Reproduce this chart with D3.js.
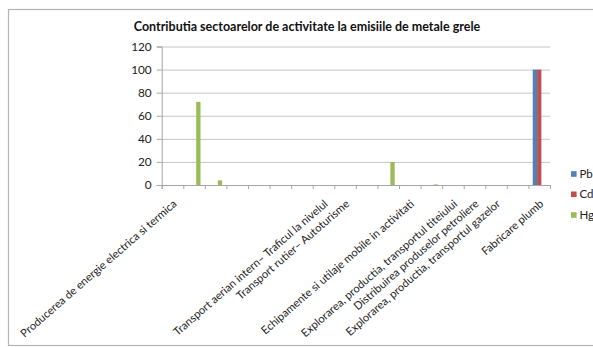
<!DOCTYPE html>
<html>
<head>
<meta charset="utf-8">
<script src="https://cdn.jsdelivr.net/npm/d3@7"></script>
<style>
  html, body { margin: 0; padding: 0; background: #fff; overflow: hidden; }
  svg { display: block; }
  text { font-family: "Lato", "Open Sans", sans-serif; }
</style>
</head>
<body>
<svg id="chart" width="593" height="347"></svg>
<script>
// ---- data ----
const title = "Contributia sectoarelor de activitate la emisiile de metale grele";
const categories = [
  "Producerea de energie electrica si termica", "", "", "", "", "", "",
  "Transport aerian intern– Traficul la nivelul",
  "Transport rutier– Autoturisme", "", "",
  "Echipamente si utilaje mobile in activitati", "",
  "Explorarea, productia, transportul titeiului",
  "Distribuirea produselor petroliere",
  "Explorarea, productia, transportul gazelor", "",
  "Fabricare plumb"
];
const seriesNames = ["Pb", "Cd", "Hg"];
const pbValues = [0,0,0,0,0,0,0,0,0,0,0,0,0,0,0,0,0,100];
const cdValues = [0,0,0,0,0,0,0,0,0,0,0,0,0,0,0,0,0,100];
const hgValues = [0,72,4,0,0,0,0,0,0,0,20,0,0.5,0,0,0,0,0];
const yTicks = [0, 20, 40, 60, 80, 100, 120];
const colors = ["#4F81BD", "#C0504D", "#9BBB59"];

const seriesValues = [pbValues, cdValues, hgValues];

const svg = d3.select("#chart");

// chart border
svg.append("rect")
  .attr("x", 8.5).attr("y", 9.5)
  .attr("width", 600).attr("height", 336)
  .attr("fill", "#fff").attr("stroke", "#b4b4b4").attr("stroke-width", 1.2);

const plotL = 161.7, plotR = 550, plotT = 46.5, plotB = 185;

const x = d3.scaleBand().domain(d3.range(categories.length)).range([plotL, plotR]).paddingInner(0).paddingOuter(0);
const xEdge = d3.scaleLinear().domain([0, categories.length]).range([plotL, plotR]);
const x1 = d3.scaleBand().domain(seriesNames).range([0, x.bandwidth()]).paddingInner(0).paddingOuter(1);
const y = d3.scaleLinear().domain([0, 120]).range([plotB, plotT]);

// gridlines
svg.append("g")
  .attr("transform", `translate(${plotL},0)`)
  .call(d3.axisLeft(y).tickValues(yTicks.filter(d => d > 0)).tickSize(-(plotR - plotL)).tickFormat(""))
  .call(g => g.select(".domain").remove())
  .call(g => g.selectAll("line").attr("stroke", "#c6c6c6").attr("stroke-width", 1));

// y axis
svg.append("g")
  .attr("transform", `translate(${plotL},0)`)
  .call(d3.axisLeft(y).tickValues(yTicks).tickSize(5).tickPadding(5))
  .call(g => g.select(".domain").attr("stroke", "#a6a6a6"))
  .call(g => g.selectAll("line").attr("stroke", "#a6a6a6"))
  .call(g => g.selectAll("text").attr("font-size", 11.8).attr("fill", "#222").style("font-family", "Lato, sans-serif"));

// bars
const groups = svg.append("g");
seriesNames.forEach((s, si) => {
  groups.selectAll(null)
    .data(seriesValues[si].map((v, i) => ({ i, v })))
    .join("rect")
    .attr("x", d => x(d.i) + x1(s))
    .attr("y", d => y(d.v))
    .attr("width", x1.bandwidth())
    .attr("height", d => y(0) - y(d.v))
    .attr("fill", colors[si]);
});

// x axis
svg.append("g")
  .attr("transform", `translate(0,${plotB})`)
  .call(d3.axisBottom(xEdge).tickValues(d3.range(categories.length + 1)).tickSize(4).tickFormat(""))
  .call(g => g.select(".domain").attr("stroke", "#a6a6a6"))
  .call(g => g.selectAll("line").attr("stroke", "#a6a6a6"));

// x labels
svg.append("g").selectAll("text")
  .data(categories.map((c, i) => ({ c, i })).filter(d => d.c))
  .join("text")
  .attr("transform", d => `translate(${x(d.i) + x.bandwidth() / 2 + 2.5},202) rotate(-41)`)
  .attr("text-anchor", "end")
  .attr("dy", "0.35em")
  .attr("font-size", 11.1)
  .attr("fill", "#222")
  .text(d => d.c);

// title
svg.append("text")
  .attr("x", 307).attr("y", 31)
  .attr("text-anchor", "middle")
  .attr("font-size", 12.5)
  .attr("font-weight", "bold")
  .attr("fill", "#111")
  .text(title);

// legend
const legend = svg.append("g");
const legendY = [174, 194.3, 215];
seriesNames.forEach((s, si) => {
  legend.append("rect")
    .attr("x", 571).attr("y", legendY[si] - 2.8)
    .attr("width", 5.6).attr("height", 5.6)
    .attr("fill", colors[si]);
  legend.append("text")
    .attr("x", 579.5).attr("y", legendY[si])
    .attr("dy", "0.35em")
    .attr("font-size", 11.5)
    .attr("fill", "#222")
    .text(s);
});
</script>
</body>
</html>
